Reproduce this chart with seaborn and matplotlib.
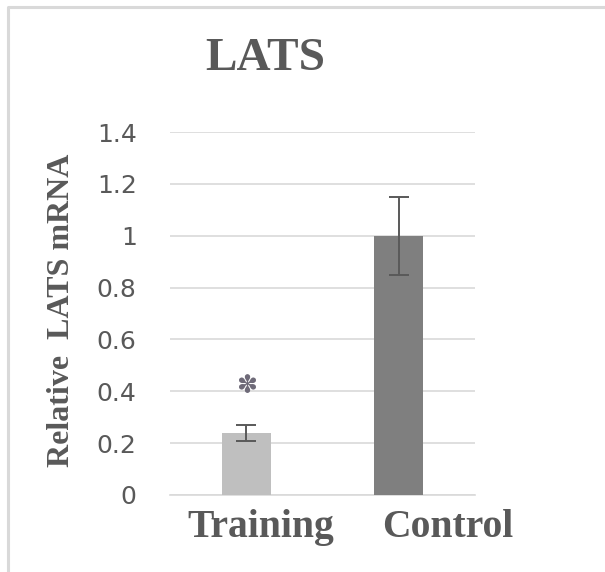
import matplotlib
matplotlib.use("Agg")
import matplotlib.pyplot as plt
from matplotlib.lines import Line2D
from matplotlib.transforms import blended_transform_factory, ScaledTranslation
import seaborn as sns
import pandas as pd

# Relative LATS mRNA expression
groups = ["Training", "Control"]
values = [0.24, 1.0]
errors = [0.03, 0.15]
y_ticks = [0, 0.2, 0.4, 0.6, 0.8, 1.0, 1.2, 1.4]
y_tick_labels = ["0", "0.2", "0.4", "0.6", "0.8", "1", "1.2", "1.4"]
significance_marks = ["✽", ""]
sig_heights = [0.42, None]

sns.set_theme(style="white")
plt.rcParams["font.family"] = ["DejaVu Sans"]

W, H = 605, 572
fig = plt.figure(figsize=(W / 100, H / 100), dpi=100)
ax = fig.add_axes([170 / W, (H - 495) / H, 305 / W, (495 - 132) / H])

df = pd.DataFrame({"group": groups, "value": values})
bar_colors = ["#BFBFBF", "#7F7F7F"]
sns.barplot(data=df, x="group", y="value", hue="group", palette=bar_colors,
            width=0.32, ax=ax, legend=False, errorbar=None, zorder=3)
for p in ax.patches:
    p.set_edgecolor("none")

ax.errorbar(range(len(groups)), values, yerr=errors, fmt="none",
            ecolor="#595959", elinewidth=1.4, capsize=7.5, capthick=1.4, zorder=4)

ax.set_xlim(-0.5, 1.5)
ax.set_ylim(0, 1.4)
ax.set_yticks(y_ticks)
ax.set_yticklabels(y_tick_labels)
ax.yaxis.grid(True, color="#D9D9D9", linewidth=1.2, zorder=0)
ax.set_axisbelow(True)
for s in ["top", "right", "left"]:
    ax.spines[s].set_visible(False)
ax.spines["bottom"].set_color("#D9D9D9")
ax.spines["bottom"].set_linewidth(1.2)
ax.tick_params(axis="y", length=0, pad=24, labelsize=18, labelcolor="#595959")
ax.tick_params(axis="x", length=0, labelbottom=False)
ax.set_xlabel("")
ax.set_ylabel("")

# category labels, set slightly to the right of each bar
serif_bold = dict(family="Liberation Serif", weight="bold", color="#595959")
label_offsets_pt = [10.8, 35.0]
xtrans = blended_transform_factory(ax.transData, ax.transAxes)
for i, (g, dx) in enumerate(zip(groups, label_offsets_pt)):
    ax.text(i, 0, g, fontsize=28.5, ha="center", va="top",
            transform=xtrans + ScaledTranslation(dx / 72, -10 / 72, fig.dpi_scale_trans),
            **serif_bold)

# significance marker
for i, (m, h) in enumerate(zip(significance_marks, sig_heights)):
    if m:
        ax.text(i, h, m, fontsize=18, ha="center", va="center",
                color="#6E6A78", zorder=5)

fig.text(265 / W, (H - 70) / H, "LATS", fontsize=34, ha="center",
         va="baseline", **serif_bold)
fig.text(62 / W, (H - 310) / H, "Relative  LATS mRNA", fontsize=23,
         rotation=90, ha="center", va="center", **serif_bold)

# outer frame (left and top edges)
fig.add_artist(Line2D([7.5 / W, 7.5 / W, 1.0], [0.0, 1 - 6.5 / H, 1 - 6.5 / H],
                      transform=fig.transFigure, color="#D9D9D9", linewidth=2.2))

fig.savefig("out.png", dpi=100, facecolor="white")
